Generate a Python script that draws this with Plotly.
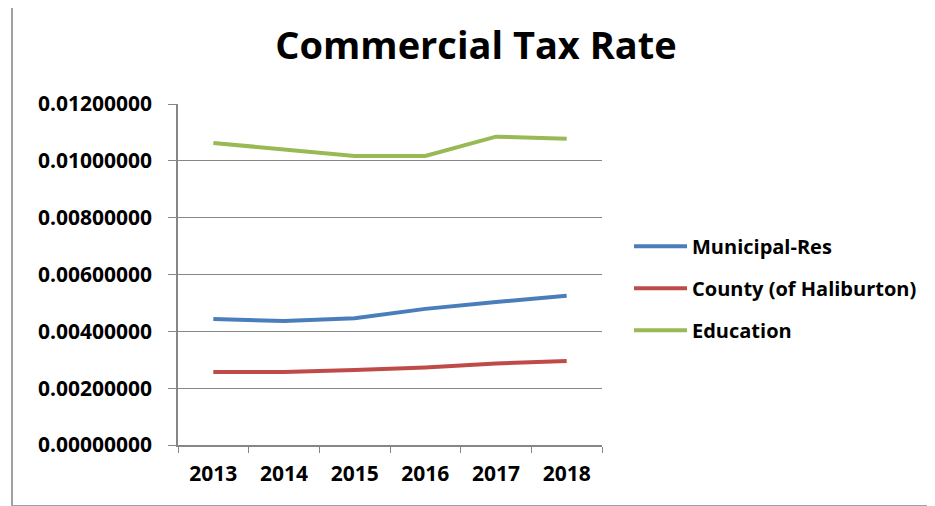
import plotly.graph_objects as go

years = ["2013", "2014", "2015", "2016", "2017", "2018"]
municipal = [0.00443, 0.00436, 0.00446, 0.00479, 0.00503, 0.00525]
county = [0.00257, 0.00257, 0.00264, 0.00273, 0.00287, 0.00296]
education = [0.01063, 0.01041, 0.01017, 0.01017, 0.01085, 0.01078]
y_ticks = [0, 0.002, 0.004, 0.006, 0.008, 0.010, 0.012]

series = [
    ("Municipal-Res", municipal, "#4A7EBB"),
    ("County (of Haliburton)", county, "#BE4B48"),
    ("Education", education, "#98B954"),
]

FONT = "Open Sans"
GRID = "#868686"
OFF = 8  # page body margin offset

fig = go.Figure()
for name, vals, color in series:
    fig.add_trace(go.Scatter(
        x=years, y=vals, name="<b>" + name + "</b>", mode="lines",
        line=dict(color=color, width=4),
        legendgroup=name,
    ))

W, H = 935, 506
L, R, T, B = 178 - OFF, 602 - OFF, 104 - OFF, 445 - OFF
pw, ph = R - L, B - T

fig.update_layout(
    width=W, height=H,
    margin=dict(l=L, r=W - R, t=T, b=H - B),
    paper_bgcolor="white", plot_bgcolor="white",
    font=dict(family=FONT, color="black"),
    title=dict(
        text="<b>Commercial Tax Rate</b>",
        font=dict(family=FONT, size=38, color="black"),
        x=(476 - OFF) / W, xanchor="center",
        y=1 - (46 - OFF) / H, yanchor="middle",
    ),
    showlegend=True,
    legend=dict(
        x=(629 - 178) / pw, xanchor="left", y=0.64, yanchor="top",
        font=dict(family=FONT, size=20, color="black"),
        tracegroupgap=13, itemwidth=53,
        bgcolor="rgba(0,0,0,0)",
    ),
    shapes=[dict(
        type="rect", xref="paper", yref="paper",
        x0=(12 - 178) / pw, x1=(950 - 178) / pw,
        y0=(445 - 506) / ph, y1=(445 - 5) / ph,
        line=dict(color="#A0A0A0", width=2), fillcolor="rgba(0,0,0,0)",
        layer="below",
    )],
)

fig.update_xaxes(
    type="category", range=[-0.5, 5.5],
    tickson="boundaries", ticks="outside", ticklen=6, tickcolor=GRID,
    showline=True, linecolor=GRID, linewidth=1.5,
    showgrid=False,
    tickfont=dict(family=FONT, size=21, color="black", weight="bold"),
    ticklabelstandoff=9,
)
fig.update_yaxes(
    range=[0, 0.012], tickvals=y_ticks, tickformat=".8f",
    ticks="outside", ticklen=8, tickcolor=GRID,
    showline=True, linecolor=GRID, linewidth=1.5,
    showgrid=True, gridcolor=GRID, gridwidth=1,
    zeroline=False,
    tickfont=dict(family=FONT, size=21, color="black", weight="bold"),
    ticklabelstandoff=12,
)

fig.write_html("out.html")
